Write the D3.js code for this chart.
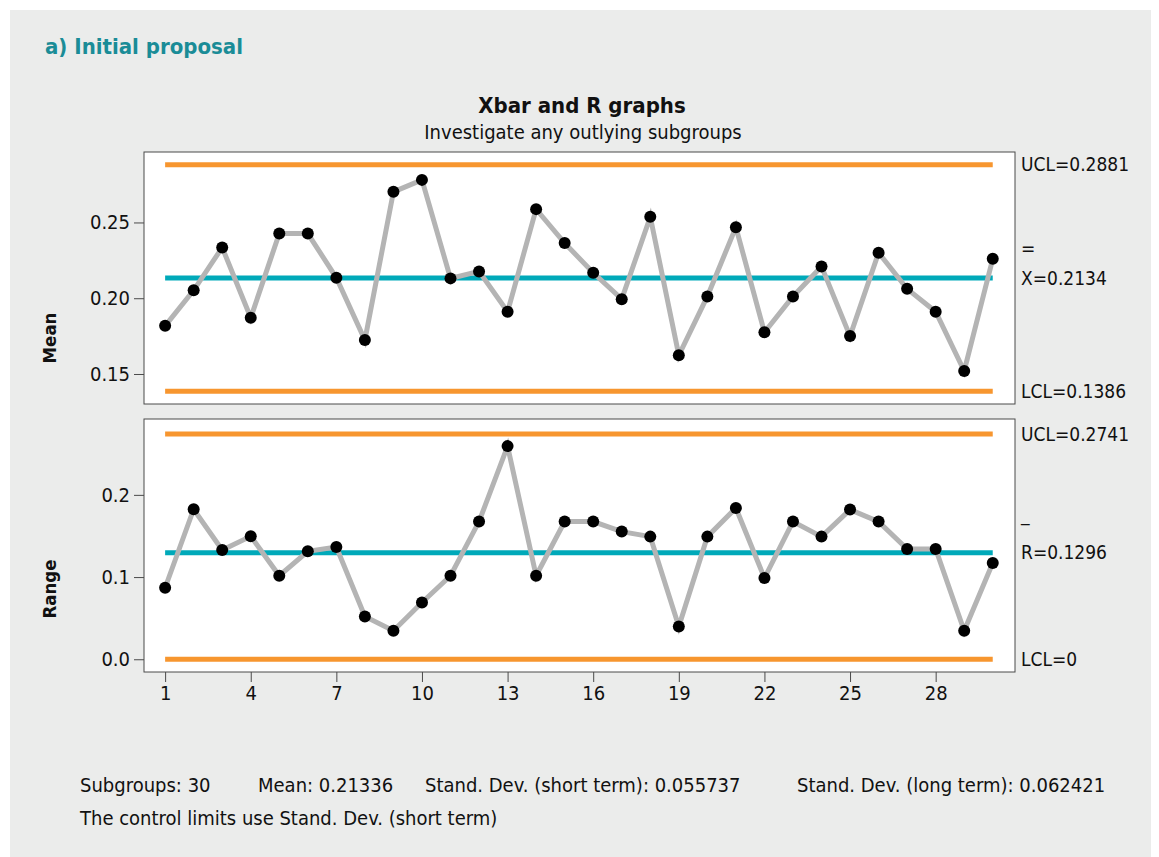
<!DOCTYPE html>
<html>
<head>
<meta charset="utf-8">
<script src="https://cdn.jsdelivr.net/npm/d3@7"></script>
<style>
  html, body { margin: 0; padding: 0; background: #ffffff; }
  svg { display: block; }
  text { font-family: "DejaVu Sans Condensed", "DejaVu Sans", sans-serif; fill: #111; }
</style>
</head>
<body>
<svg id="chart" width="1159" height="857"></svg>
<script>
// Subgroup numbers and their statistics
const subgroups = d3.range(1, 31);
const means = [
  0.1818, 0.2052, 0.2335, 0.1871, 0.2427, 0.2427, 0.2135, 0.1724, 0.2702, 0.2781,
  0.2131, 0.2177, 0.1911, 0.2588, 0.2364, 0.2168, 0.1994, 0.2537, 0.1623, 0.2012,
  0.2469, 0.1775, 0.2012, 0.2210, 0.1750, 0.2300, 0.2062, 0.1911, 0.1520, 0.2260
];
const ranges = [
  0.0870, 0.1825, 0.1329, 0.1496, 0.1016, 0.1313, 0.1366, 0.0520, 0.0346, 0.0691,
  0.1016, 0.1675, 0.2593, 0.1016, 0.1675, 0.1675, 0.1553, 0.1492, 0.0398, 0.1492,
  0.1841, 0.0988, 0.1675, 0.1492, 0.1821, 0.1675, 0.1341, 0.1341, 0.0346, 0.1171
];

// Control limits
const meanLimits = { ucl: 0.2881, center: 0.2134, lcl: 0.1386 };
const rangeLimits = { ucl: 0.2741, center: 0.1296, lcl: 0 };

// Tick values and labels
const xTicks = [1, 4, 7, 10, 13, 16, 19, 22, 25, 28];
const meanTicks = [0.15, 0.20, 0.25];
const rangeTicks = [0.0, 0.1, 0.2];

// Summary text
const summaryItems = [
  "Subgroups: 30",
  "Mean: 0.21336",
  "Stand. Dev. (short term): 0.055737",
  "Stand. Dev. (long term): 0.062421"
];
const summaryNote = "The control limits use Stand. Dev. (short term)";

const colors = {
  panel: "#ebeceb",
  limit: "#f7962f",
  center: "#00a9b9",
  line: "#b4b4b4",
  dot: "#000000",
  heading: "#1a8c97"
};

const svg = d3.select("#chart");

// Grey background panel
svg.append("rect")
  .attr("x", 10).attr("y", 10)
  .attr("width", 1141).attr("height", 847)
  .attr("fill", colors.panel);

svg.append("text")
  .attr("x", 45).attr("y", 54)
  .attr("font-size", 22).attr("font-weight", "bold")
  .style("fill", colors.heading)
  .text("a) Initial proposal");

svg.append("text")
  .attr("x", 582).attr("y", 113)
  .attr("text-anchor", "middle")
  .attr("font-size", 22).attr("font-weight", "bold")
  .text("Xbar and R graphs");

svg.append("text")
  .attr("x", 583).attr("y", 139)
  .attr("text-anchor", "middle")
  .attr("font-size", 20)
  .text("Investigate any outlying subgroups");

const plotLeft = 144, plotRight = 1015;
const x = d3.scaleLinear().domain([0.26, 30.78]).range([plotLeft, plotRight]);

function drawPanel(cfg) {
  const { top, bottom, domain, values, limits, ticks, tickFormat, title, titleY, labels, showX } = cfg;
  const y = d3.scaleLinear().domain(domain).range([bottom, top]);
  const g = svg.append("g");

  g.append("rect")
    .attr("x", plotLeft).attr("y", top)
    .attr("width", plotRight - plotLeft).attr("height", bottom - top)
    .attr("fill", "#ffffff")
    .attr("stroke", "#4a4a4a").attr("stroke-width", 1);

  // y axis
  const yAxis = d3.axisLeft(y).tickValues(ticks).tickFormat(tickFormat).tickSize(10).tickPadding(4);
  const ya = g.append("g").attr("transform", `translate(${plotLeft},0)`).call(yAxis);
  ya.select(".domain").remove();
  ya.selectAll(".tick line").attr("stroke", "#4a4a4a");
  ya.selectAll(".tick text").attr("font-size", 20).style("font-family", null).attr("fill", null);

  if (showX) {
    const xAxis = d3.axisBottom(x).tickValues(xTicks).tickFormat(d3.format("d")).tickSize(10).tickPadding(4);
    const xa = g.append("g").attr("transform", `translate(0,${bottom})`).call(xAxis);
    xa.select(".domain").remove();
    xa.selectAll(".tick line").attr("stroke", "#4a4a4a");
    xa.selectAll(".tick text").attr("font-size", 20).style("font-family", null).attr("fill", null);
  }

  // axis title
  g.append("text")
    .attr("transform", `translate(${56},${titleY}) rotate(-90)`)
    .attr("text-anchor", "middle")
    .attr("font-size", 18.5).attr("font-weight", "bold")
    .text(title);

  // control limit and centre lines
  const x0 = x(subgroups[0]), x1 = x(subgroups[subgroups.length - 1]);
  [["ucl", colors.limit], ["lcl", colors.limit], ["center", colors.center]].forEach(([k, c]) => {
    g.append("line")
      .attr("x1", x0).attr("x2", x1)
      .attr("y1", y(limits[k])).attr("y2", y(limits[k]))
      .attr("stroke", c).attr("stroke-width", 5);
  });

  // series line and points
  const line = d3.line().x((d, i) => x(subgroups[i])).y(d => y(d));
  g.append("path")
    .datum(values)
    .attr("d", line)
    .attr("fill", "none")
    .attr("stroke", colors.line)
    .attr("stroke-width", 5)
    .attr("stroke-linejoin", "miter");

  g.selectAll("circle.pt")
    .data(values)
    .enter().append("circle")
    .attr("class", "pt")
    .attr("cx", (d, i) => x(subgroups[i]))
    .attr("cy", d => y(d))
    .attr("r", 6)
    .attr("fill", colors.dot);

  // limit labels on the right
  const lx = plotRight + 6;
  labels.forEach(l => {
    g.append("text")
      .attr("x", lx).attr("y", y(limits[l.key]))
      .attr("dy", "0.35em")
      .attr("font-size", 19)
      .text(l.text);
    if (l.bar) {
      g.append("text")
        .attr("x", lx).attr("y", y(limits[l.key]) - l.barOffset)
        .attr("dy", "0.35em")
        .attr("font-size", 19)
        .text(l.bar);
    }
  });
  return y;
}

drawPanel({
  top: 152, bottom: 404,
  domain: [0.1302, 0.2965],
  values: means,
  limits: meanLimits,
  ticks: meanTicks,
  tickFormat: d3.format(".2f"),
  title: "Mean", titleY: 338,
  labels: [
    { key: "ucl", text: "UCL=" + meanLimits.ucl.toFixed(4) },
    { key: "center", text: "X=" + meanLimits.center.toFixed(4), bar: "=", barOffset: 30 },
    { key: "lcl", text: "LCL=" + meanLimits.lcl.toFixed(4) }
  ],
  showX: false
});

drawPanel({
  top: 419, bottom: 672,
  domain: [-0.0155, 0.2923],
  values: ranges,
  limits: rangeLimits,
  ticks: rangeTicks,
  tickFormat: d3.format(".1f"),
  title: "Range", titleY: 589,
  labels: [
    { key: "ucl", text: "UCL=" + rangeLimits.ucl.toFixed(4) },
    { key: "center", text: "R=" + rangeLimits.center.toFixed(4), bar: "_", barOffset: 38 },
    { key: "lcl", text: "LCL=0" }
  ],
  showX: true
});

// Summary lines
const summaryX = [80, 258, 425, 797];
summaryItems.forEach((t, i) => {
  svg.append("text")
    .attr("x", summaryX[i]).attr("y", 792)
    .attr("font-size", 20)
    .text(t);
});
svg.append("text")
  .attr("x", 80).attr("y", 825)
  .attr("font-size", 20)
  .text(summaryNote);
</script>
</body>
</html>
